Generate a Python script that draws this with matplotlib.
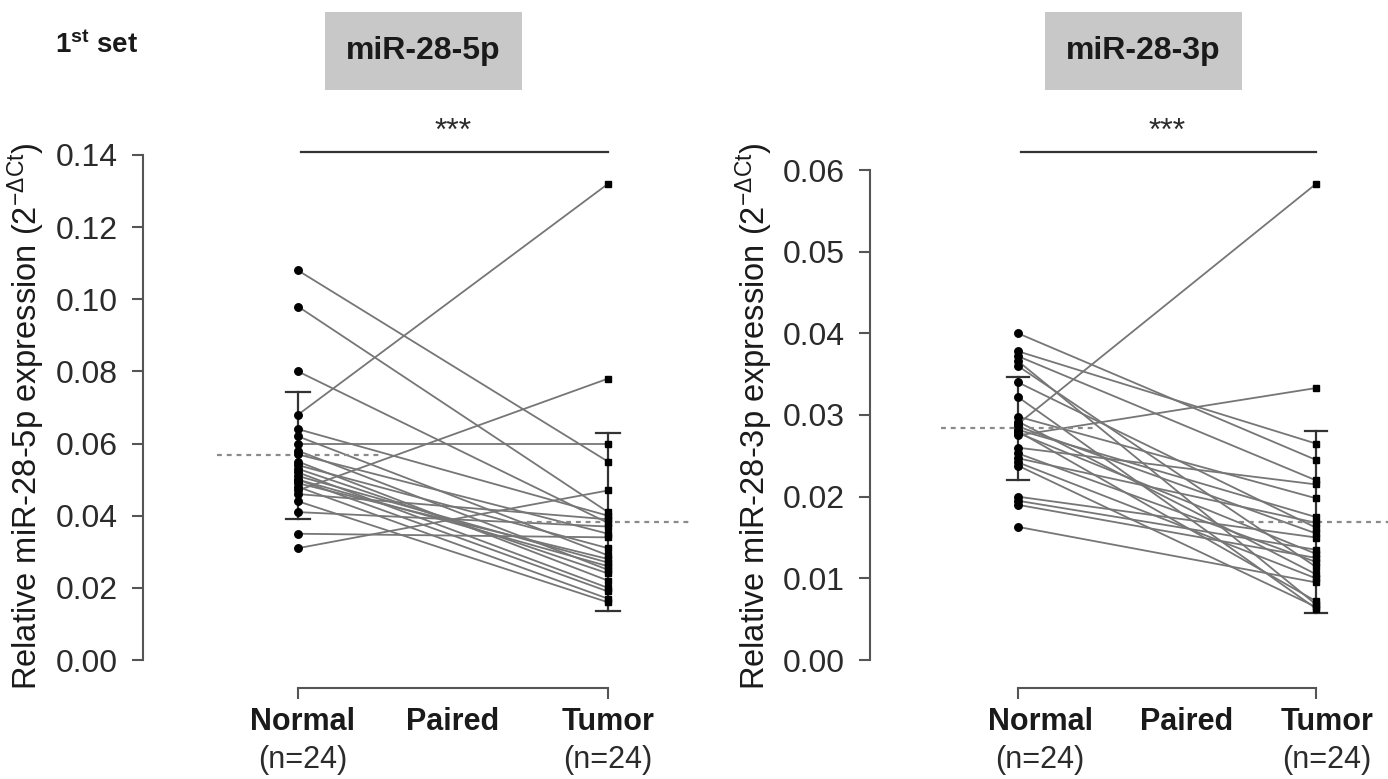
import matplotlib
matplotlib.use("Agg")
import matplotlib.pyplot as plt
import matplotlib.transforms as mtransforms
from matplotlib.patches import Rectangle
import numpy as np

plt.rcParams["font.family"] = ["Liberation Sans", "DejaVu Sans"]
plt.rcParams["mathtext.fontset"] = "custom"
plt.rcParams["mathtext.rm"] = "Liberation Sans"
plt.rcParams["mathtext.bf"] = "Liberation Sans:bold"
plt.rcParams["mathtext.it"] = "Liberation Sans:italic"

# ---- data (paired: normal[i] -> tumor[i]) ----
groups = ["Normal", "Tumor"]
n_label = "(n=24)"

normal_5p = [0.108, 0.098, 0.080, 0.068, 0.064, 0.062, 0.060, 0.058,
             0.057, 0.055, 0.054, 0.053, 0.052, 0.051, 0.050, 0.050,
             0.049, 0.048, 0.047, 0.046, 0.044, 0.041, 0.035, 0.031]
tumor_5p = [0.055, 0.041, 0.038, 0.132, 0.040, 0.029, 0.060, 0.025,
            0.035, 0.022, 0.031, 0.024, 0.020, 0.027, 0.019, 0.026,
            0.028, 0.017, 0.078, 0.039, 0.016, 0.037, 0.034, 0.047]

normal_3p = [0.0400, 0.0378, 0.0372, 0.0366, 0.0360, 0.0340, 0.0322, 0.0298,
             0.0292, 0.0289, 0.0286, 0.0282, 0.0280, 0.0278, 0.0275, 0.0260,
             0.0253, 0.0247, 0.0242, 0.0238, 0.0200, 0.0195, 0.0190, 0.0163]
tumor_3p = [0.0245, 0.0265, 0.0220, 0.0068, 0.0114, 0.0162, 0.0063, 0.0198,
            0.0105, 0.0583, 0.0155, 0.0175, 0.0072, 0.0130, 0.0333, 0.0215,
            0.0120, 0.0168, 0.0100, 0.0065, 0.0150, 0.0135, 0.0125, 0.0095]

yticks_5p = [0.00, 0.02, 0.04, 0.06, 0.08, 0.10, 0.12, 0.14]
yticks_3p = [0.00, 0.01, 0.02, 0.03, 0.04, 0.05, 0.06]

W, H = 1388, 779
fig = plt.figure(figsize=(W / 100, H / 100), dpi=100)
fig.patch.set_facecolor("white")

LINE_C = "#767676"
AX_C = "#555555"
TXT_C = "#2b2b2b"


def fx(px):
    return px / W


def fy(py):
    return 1 - py / H


def panel(ax, normal, tumor, yticks, title, box_px, label_x, bar_y, star_y):
    normal = np.asarray(normal)
    tumor = np.asarray(tumor)
    ymax = yticks[-1]
    ax.set_ylim(0, ymax)

    # paired lines
    for a, b in zip(normal, tumor):
        ax.plot([0, 1], [a, b], color=LINE_C, lw=1.3, zorder=2, clip_on=False)
    ax.plot(np.zeros_like(normal), normal, "o", color="black", ms=5.4, zorder=4, clip_on=False)
    ax.plot(np.ones_like(tumor), tumor, "s", color="black", ms=4.8, zorder=4, clip_on=False)

    # mean (dashed) and mean +/- SD bars
    for x, vals in ((0, normal), (1, tumor)):
        m = vals.mean()
        sd = vals.std(ddof=1)
        ax.plot([x - 0.26, x + 0.26], [m, m], color="#8a8a8a", lw=1.6,
                ls=(0, (2.2, 2.2)), zorder=3, clip_on=False)
        ax.plot([x, x], [m - sd, m + sd], color="#333333", lw=1.6, zorder=3)
        for y in (m - sd, m + sd):
            ax.plot([x - 0.038, x + 0.038], [y, y], color="#333333", lw=1.6, zorder=3)

    # axes styling (R-like)
    for s in ("top", "right"):
        ax.spines[s].set_visible(False)
    ax.spines["left"].set_bounds(0, ymax)
    ax.spines["left"].set_color(AX_C)
    ax.spines["left"].set_linewidth(1.5)
    ax.spines["bottom"].set_position(("outward", 20))
    ax.spines["bottom"].set_bounds(0, 1)
    ax.spines["bottom"].set_color(AX_C)
    ax.spines["bottom"].set_linewidth(1.5)
    ax.set_xticks([0, 1])
    ax.set_xticklabels(["", ""])
    ax.set_yticks(yticks)
    ax.set_yticklabels([f"{t:.2f}" for t in yticks], fontsize=23, color=TXT_C)
    ax.tick_params(axis="y", length=8, width=1.5, color=AX_C, pad=10)
    ax.tick_params(axis="x", length=8, width=1.5, color=AX_C)
    ax.set_facecolor("none")

    tr = mtransforms.blended_transform_factory(ax.transData, fig.transFigure)
    # significance bar
    ax.plot([0.01, 1.0], [fy(bar_y), fy(bar_y)], color="#333333", lw=1.6,
            transform=tr, clip_on=False)
    ax.text(0.5, fy(star_y), "***", transform=tr, ha="center", va="center",
            fontsize=23, color=TXT_C)

    # category labels
    nx, px_, tx = label_x
    for x, s in ((nx, groups[0]), (px_, "Paired"), (tx, groups[1])):
        ax.text(x, fy(722), s, transform=tr, ha="center", va="center",
                fontsize=22, fontweight="bold", color="#1a1a1a")
    for x in (nx, tx):
        ax.text(x, fy(760), n_label, transform=tr, ha="center", va="center",
                fontsize=22, color=TXT_C)

    # title box
    x0, x1, y0, y1 = box_px
    fig.patches.append(Rectangle((fx(x0), fy(y1)), fx(x1 - x0), (y1 - y0) / H,
                                 transform=fig.transFigure, facecolor="#c8c8c8",
                                 edgecolor="none", zorder=0))
    fig.text(fx((x0 + x1) / 2), fy((y0 + y1) / 2), title, ha="center", va="center",
             fontsize=23, fontweight="bold", color="#1a1a1a")
    return ax


# left panel: Normal at x=298 px, Tumor at x=608 px
ax1 = fig.add_axes([fx(143), fy(660), fx(557), 505 / H])
ax1.set_xlim(-0.5, -0.5 + 557 / 310)
panel(ax1, normal_5p, tumor_5p, yticks_5p, "miR-28-5p",
      (325, 522, 12, 90), (0.016, 0.5, 1.0), 152, 132)

# right panel: Normal at x=1018 px, Tumor at x=1316 px
ax2 = fig.add_axes([fx(870), fy(660), fx(518), 490 / H])
ax2.set_xlim(-148 / 298, -148 / 298 + 518 / 298)
panel(ax2, normal_3p, tumor_3p, yticks_3p, "miR-28-3p",
      (1045, 1242, 12, 90), (0.074, 0.567, 1.037), 152, 132)

fig.text(fx(26), fy(416), r"Relative miR-28-5p expression (2$^{\mathrm{-\Delta Ct}}$)",
         rotation=90, ha="center", va="center", fontsize=23.5, color="#1a1a1a")
fig.text(fx(754), fy(416), r"Relative miR-28-3p expression (2$^{\mathrm{-\Delta Ct}}$)",
         rotation=90, ha="center", va="center", fontsize=23.5, color="#1a1a1a")

fig.text(fx(55), fy(45), r"1$^{\mathbf{st}}$ set", ha="left", va="center",
         fontsize=20, fontweight="bold", color="#1a1a1a")

fig.savefig("out.png", dpi=100, facecolor="white")
